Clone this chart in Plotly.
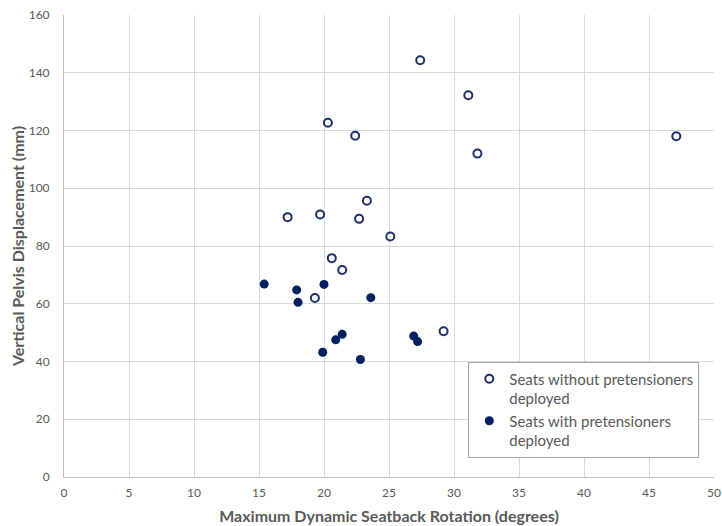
import plotly.graph_objects as go

# Seats without pretensioners deployed
no_pt_rotation = [27.4, 31.1, 20.3, 22.4, 31.8, 23.3, 17.2, 19.7, 22.7, 25.1, 20.6, 47.1, 21.4, 19.3, 29.2]
no_pt_displacement = [144.3, 132.2, 122.7, 118.2, 112.0, 95.7, 90.0, 90.9, 89.4, 83.3, 75.8, 118.0, 71.7, 62.0, 50.5]

# Seats with pretensioners deployed
pt_rotation = [15.4, 17.9, 18.0, 20.0, 23.6, 21.4, 20.9, 19.9, 22.8, 26.9, 27.2]
pt_displacement = [66.8, 64.8, 60.5, 66.7, 62.1, 49.4, 47.5, 43.2, 40.7, 48.8, 46.9]

x_ticks = list(range(0, 51, 5))
y_ticks = list(range(0, 161, 20))

navy = "#002060"
grey_text = "#595959"
font_family = "Lato, 'Open Sans', sans-serif"

fig = go.Figure()
fig.add_trace(go.Scatter(
    x=no_pt_rotation, y=no_pt_displacement, mode="markers",
    name="Seats without pretensioners<br>deployed",
    marker=dict(symbol="circle-open", size=8, color="#1f3068",
                line=dict(width=2, color="#1f3068")),
))
fig.add_trace(go.Scatter(
    x=pt_rotation, y=pt_displacement, mode="markers",
    name="Seats with pretensioners<br>deployed",
    marker=dict(symbol="circle", size=9, color=navy),
))

fig.update_layout(
    width=722, height=526,
    margin=dict(l=64, r=8, t=15, b=49, autoexpand=False),
    paper_bgcolor="white", plot_bgcolor="white",
    font=dict(family=font_family, color=grey_text, size=12),
    legend=dict(
        x=0.622, y=0.25, xanchor="left", yanchor="top",
        bgcolor="white", bordercolor="#a6a6a6", borderwidth=1,
        font=dict(size=15, color=grey_text, family=font_family),
        valign="top", tracegroupgap=6, itemwidth=30,
    ),
    showlegend=True,
)
fig.update_xaxes(
    range=[0, 50], tickvals=x_ticks, ticktext=[str(v) for v in x_ticks],
    showgrid=True, gridcolor="#d9d9d9", gridwidth=1,
    showline=True, linecolor="#bfbfbf", linewidth=1, zeroline=False,
    ticks="", tickfont=dict(size=12, color=grey_text), ticklabelstandoff=5,
    automargin=False,
    title=dict(text="<b>Maximum Dynamic Seatback Rotation (degrees)</b>",
               font=dict(size=16, color=grey_text), standoff=11),
)
fig.update_yaxes(
    range=[0, 160], tickvals=y_ticks, ticktext=[str(v) for v in y_ticks],
    showgrid=True, gridcolor="#d9d9d9", gridwidth=1,
    showline=True, linecolor="#bfbfbf", linewidth=1, zeroline=False,
    ticks="", tickfont=dict(size=12, color=grey_text), ticklabelstandoff=11,
    automargin=False,
    title=dict(text="<b>Vertical Pelvis Displacement (mm)</b>",
               font=dict(size=16, color=grey_text), standoff=0),
)

fig.write_html("out.html")
